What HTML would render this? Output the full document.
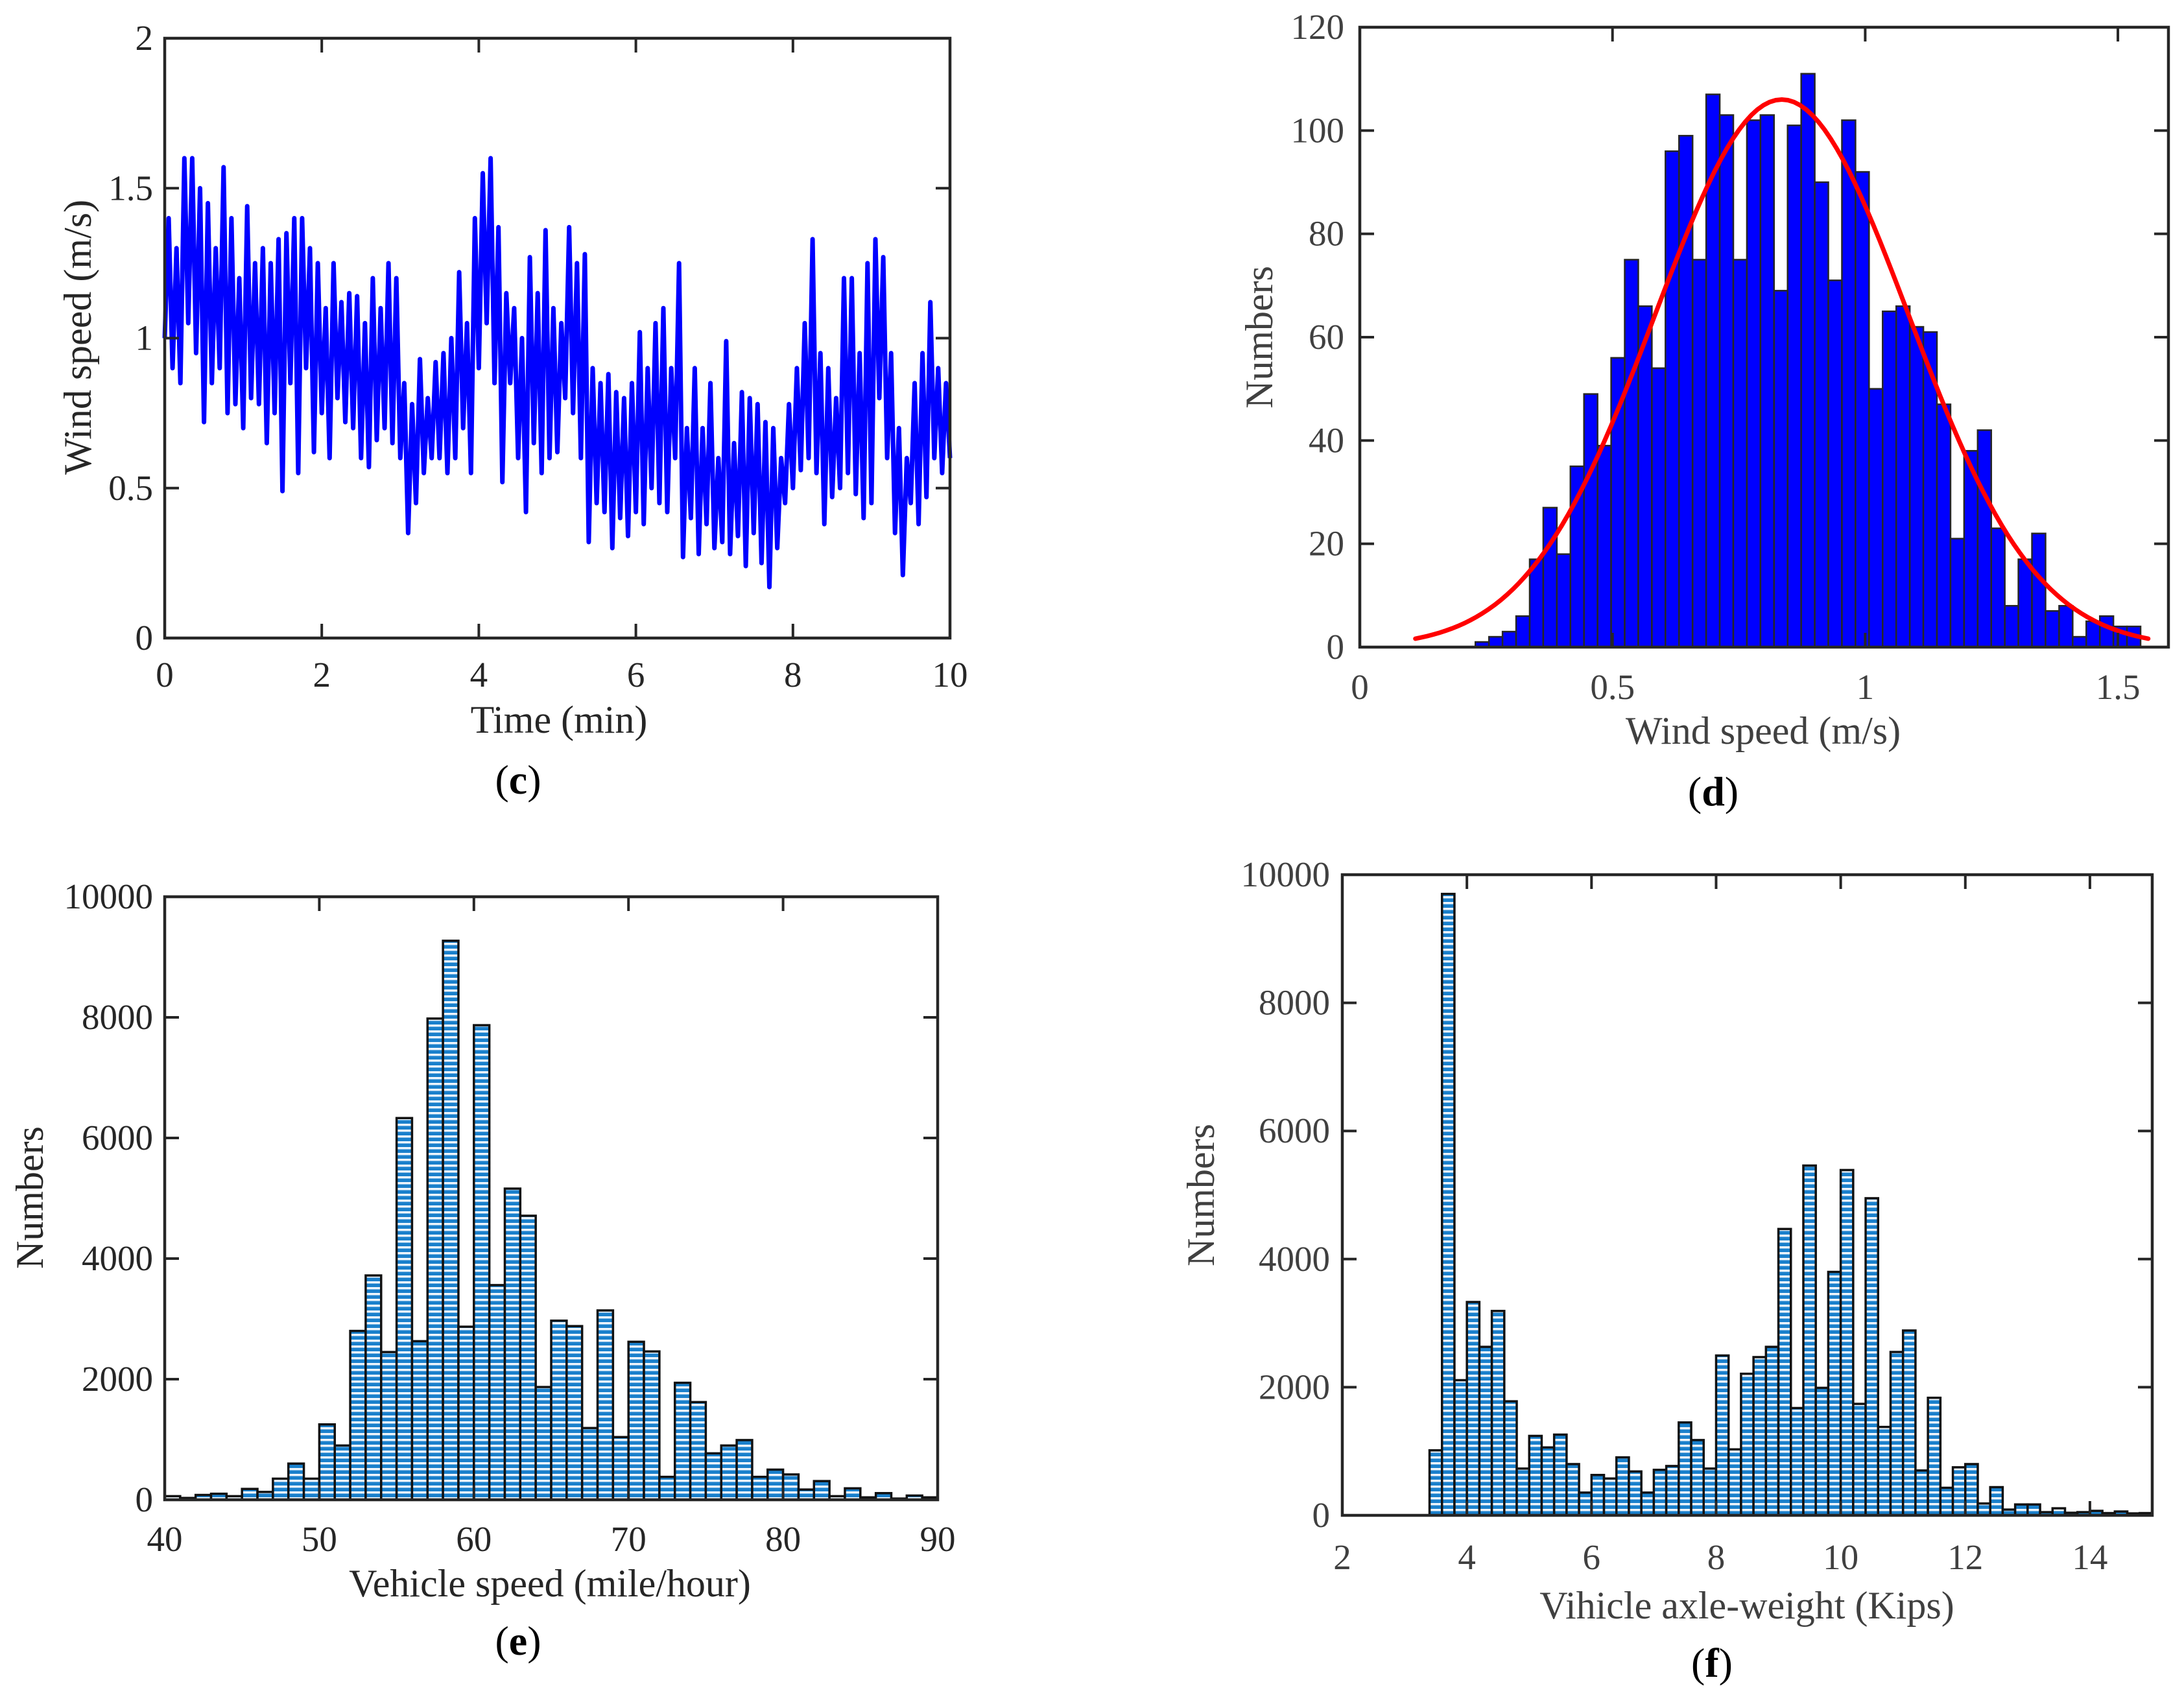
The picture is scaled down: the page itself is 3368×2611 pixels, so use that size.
<!DOCTYPE html>
<html><head><meta charset="utf-8">
<style>
html,body{margin:0;padding:0;background:#fff;}
svg{display:block;}
text{font-family:"Liberation Serif",serif;}
</style></head>
<body>
<svg id="fig" width="3368" height="2611" viewBox="0 0 3368 2611" xmlns="http://www.w3.org/2000/svg">
<defs>
<pattern id="hatch" patternUnits="userSpaceOnUse" width="8" height="9">
<rect width="8" height="9" fill="#1a80cc"/>
<rect y="5" width="8" height="3.5" fill="#eef5fc"/>
</pattern>
</defs>
</svg>
<script>
// ---- Panel (c) wind speed time series ----
const cTimeStart = [0];
const cTimeStep = [0.05];
const cSpeed = [
1.0,1.4,0.9,1.3,0.85,1.6,1.05,1.6,0.95,1.5,
0.72,1.45,0.85,1.3,0.9,1.57,0.75,1.4,0.78,1.2,
0.7,1.44,0.8,1.25,0.78,1.3,0.65,1.25,0.75,1.33,
0.49,1.35,0.85,1.4,0.55,1.4,0.9,1.3,0.62,1.25,
0.75,1.1,0.6,1.25,0.8,1.12,0.72,1.15,0.7,1.14,
0.6,1.05,0.57,1.2,0.66,1.1,0.7,1.25,0.65,1.2,
0.6,0.85,0.35,0.78,0.45,0.93,0.55,0.8,0.6,0.92,
0.6,0.95,0.55,1.0,0.6,1.22,0.7,1.05,0.55,1.4,
0.9,1.55,1.05,1.6,0.85,1.37,0.52,1.15,0.85,1.1,
0.6,1.0,0.42,1.27,0.65,1.15,0.55,1.36,0.6,1.1,
0.62,1.05,0.8,1.37,0.75,1.25,0.6,1.28,0.32,0.9,
0.45,0.85,0.42,0.88,0.3,0.82,0.4,0.8,0.34,0.85,
0.42,1.02,0.38,0.9,0.5,1.05,0.45,1.1,0.42,0.9,
0.6,1.25,0.27,0.7,0.4,0.9,0.28,0.7,0.38,0.85,
0.3,0.6,0.32,0.99,0.28,0.65,0.34,0.82,0.24,0.8,
0.35,0.78,0.25,0.72,0.17,0.7,0.3,0.6,0.45,0.78,
0.5,0.9,0.56,1.05,0.6,1.33,0.55,0.95,0.38,0.9,
0.47,0.8,0.5,1.2,0.55,1.2,0.48,0.95,0.4,1.25,
0.45,1.33,0.8,1.27,0.6,0.95,0.35,0.7,0.21,0.6,
0.45,0.85,0.38,0.95,0.47,1.12,0.6,0.9,0.55,0.85,0.6];
const cXTicks = [0,2,4,6,8,10];
const cYTicks = [0,0.5,1,1.5,2];
const cYTickLabels = ["0","0.5","1","1.5","2"];

// ---- Panel (d) wind speed histogram ----
const dBinStart = [0.2287];
const dBinWidth = [0.02686];
const dCounts = [1,2,3,6,17,27,18,35,49,39,56,75,66,54,96,99,75,107,103,75,102,103,69,101,111,90,71,102,92,50,65,66,62,61,47,21,38,42,23,8,17,22,7,8,2,5,6,4,4];
const dFitMean = [0.835];
const dFitSigma = [0.251];
const dFitPeak = [106];
const dFitRange = [0.11,1.56];
const dXTicks = [0,0.5,1,1.5];
const dXTickLabels = ["0","0.5","1","1.5"];
const dYTicks = [0,20,40,60,80,100,120];

// ---- Panel (e) vehicle speed histogram ----
const eBinStart = [40];
const eBinWidth = [1];
const eCounts = [60,30,80,100,60,180,130,350,600,350,
1250,900,2800,3720,2450,6330,2630,7980,9270,2870,
7870,3560,5160,4710,1870,2970,2880,1190,3140,1040,
2620,2460,380,1940,1620,770,900,990,380,500,
420,170,310,60,190,40,110,20,70,40];
const eXTicks = [40,50,60,70,80,90];
const eYTicks = [0,2000,4000,6000,8000,10000];

// ---- Panel (f) axle weight histogram ----
const fBinStart = [3.4];
const fBinWidth = [0.2];
const fCounts = [1015,9700,2110,3330,2630,3190,1780,730,1240,1060,1260,800,355,630,575,905,685,355,710,770,1450,1175,730,2495,1030,2210,2470,2630,4470,1675,5460,1990,3800,5390,1740,4950,1380,2550,2885,700,1835,430,750,800,185,440,90,170,170,50,110,40,50,70,35,60,30,35];
const fXTicks = [2,4,6,8,10,12,14];
const fYTicks = [0,2000,4000,6000,8000,10000];

const NS = "http://www.w3.org/2000/svg";
const svg = document.getElementById('fig');
function mk(tag, attrs, parent){
  const e = document.createElementNS(NS, tag);
  for (const k in attrs) e.setAttribute(k, attrs[k]);
  (parent||svg).appendChild(e);
  return e;
}
function scale(d0,d1,r0,r1){ return v => r0 + (v-d0)/(d1-d0)*(r1-r0); }

function axes(P, g){
  const {L,R,T,B,xs,ys,xt,xtl,yt,ytl,col,fs} = P;
  const box = mk('rect',{x:L,y:T,width:R-L,height:B-T,fill:'none',stroke:'#262626','stroke-width':4.5},g);
  
  
  xt.forEach((v,i)=>{
    const x = xs(v);
    const t1 = mk('line',{x1:x,x2:x,y1:B,y2:B-22,stroke:'#262626','stroke-width':4},g);
    
    
    const t2 = mk('line',{x1:x,x2:x,y1:T,y2:T+22,stroke:'#262626','stroke-width':4},g);
    
    
    const tx = mk('text',{x:x,y:P.xtY,'text-anchor':'middle','font-size':fs,fill:col},g);
    tx.textContent = xtl ? xtl[i] : String(v);
    
    
  });
  yt.forEach((v,i)=>{
    const y = ys(v);
    const t1 = mk('line',{x1:L,x2:L+22,y1:y,y2:y,stroke:'#262626','stroke-width':4},g);
    
    
    const t2 = mk('line',{x1:R,x2:R-22,y1:y,y2:y,stroke:'#262626','stroke-width':4},g);
    
    
    const tx = mk('text',{x:P.ytX,y:y+18,'text-anchor':'end','font-size':fs,fill:col},g);
    tx.textContent = ytl ? ytl[i] : String(v);
    
    
  });
  const xl = mk('text',{x:P.xlX,y:P.xlY,'text-anchor':'middle','font-size':60,fill:col},g);
  xl.textContent = P.xlabel;
  
  
  const yl = mk('text',{x:0,y:0,'text-anchor':'middle','font-size':60,fill:col,transform:`translate(${P.ylX},${P.ylY}) rotate(-90)`},g);
  yl.textContent = P.ylabel;
  
  
  const pl = mk('text',{x:P.plX,y:P.plY,'text-anchor':'middle','font-size':64,fill:'#000'},g);
  pl.innerHTML = '(<tspan font-weight="bold">'+P.letter+'</tspan>)';
  
  
}

function hist(P, g, start, width, counts, fill, stroke, sw){
  counts.forEach((c,i)=>{
    const x0 = P.xs(start + i*width), x1 = P.xs(start + (i+1)*width);
    const y = P.ys(c);
    const r = mk('rect',{x:x0,y:y,width:x1-x0,height:P.B-y,fill:fill,stroke:stroke,'stroke-width':sw},g);
    
    
  });
}

// Panel c
{
  const g = mk('g',{});  
  const P = {L:254,R:1465,T:59,B:984,fs:55,col:'#262626'};
  P.xs = scale(0,10,P.L,P.R); P.ys = scale(0,2,P.B,P.T);
  Object.assign(P,{xt:cXTicks,yt:cYTicks,ytl:cYTickLabels,xtY:1059,ytX:236,xlabel:'Time (min)',xlX:862,xlY:1130,ylabel:'Wind speed (m/s)',ylX:140,ylY:520,letter:'c',plX:799,plY:1224});
  const pts = cSpeed.map((v,i)=>P.xs(cTimeStart[0]+i*cTimeStep[0]).toFixed(1)+','+P.ys(v).toFixed(1)).join(' ');
  const line = mk('polyline',{points:pts,fill:'none',stroke:'#0000ff','stroke-width':7,'stroke-linejoin':'round'},g);
  
  
  axes(P,g);
}
// Panel d
{
  const g = mk('g',{});  
  const P = {L:2097,R:3344,T:42,B:998,fs:55,col:'#404040'};
  P.xs = scale(0,1.6,P.L,P.R); P.ys = scale(0,120,P.B,P.T);
  Object.assign(P,{xt:dXTicks,xtl:dXTickLabels,yt:dYTicks,xtY:1078,ytX:2073,xlabel:'Wind speed (m/s)',xlX:2719,xlY:1147,ylabel:'Numbers',ylX:1962,ylY:520,letter:'d',plX:2642,plY:1242});
  hist(P,g,dBinStart[0],dBinWidth[0],dCounts,'#0000ff','#262626',2.5);
  const n = 120, pts = [];
  for (let i=0;i<=n;i++){
    const x = dFitRange[0] + (dFitRange[1]-dFitRange[0])*i/n;
    const y = dFitPeak[0]*Math.exp(-Math.pow(x-dFitMean[0],2)/(2*dFitSigma[0]*dFitSigma[0]));
    pts.push(P.xs(x).toFixed(1)+','+P.ys(y).toFixed(1));
  }
  const fit = mk('polyline',{points:pts.join(' '),fill:'none',stroke:'#ff0000','stroke-width':7,'stroke-linecap':'round'},g);
  
  
  axes(P,g);
}
// Panel e
{
  const g = mk('g',{});  
  const P = {L:254,R:1446,T:1383,B:2313,fs:55,col:'#262626'};
  P.xs = scale(40,90,P.L,P.R); P.ys = scale(0,10000,P.B,P.T);
  Object.assign(P,{xt:eXTicks,yt:eYTicks,xtY:2392,ytX:236,xlabel:'Vehicle speed (mile/hour)',xlX:848,xlY:2462,ylabel:'Numbers',ylX:66,ylY:1847,letter:'e',plX:799,plY:2552});
  hist(P,g,eBinStart[0],eBinWidth[0],eCounts,'url(#hatch)','#111',3.5);
  axes(P,g);
}
// Panel f
{
  const g = mk('g',{});  
  const P = {L:2070,R:3319,T:1349,B:2337,fs:55,col:'#404040'};
  P.xs = scale(2,15,P.L,P.R); P.ys = scale(0,10000,P.B,P.T);
  Object.assign(P,{xt:fXTicks,yt:fYTicks,xtY:2420,ytX:2051,xlabel:'Vihicle axle-weight (Kips)',xlX:2694,xlY:2496,ylabel:'Numbers',ylX:1872,ylY:1843,letter:'f',plX:2640,plY:2586});
  hist(P,g,fBinStart[0],fBinWidth[0],fCounts,'url(#hatch)','#111',3.5);
  axes(P,g);
}
</script>
</body></html>
